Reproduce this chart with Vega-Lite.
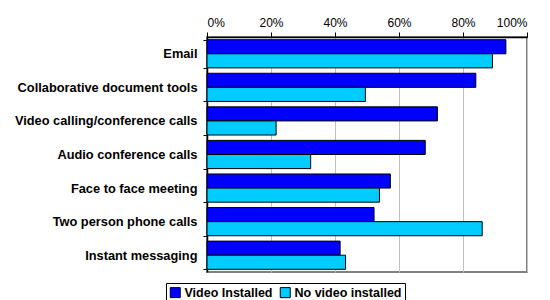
{
  "$schema": "https://vega.github.io/schema/vega-lite/v6.json",
  "autosize": "none",
  "width": 320,
  "height": 235,
  "padding": {"left": 207, "top": 37, "right": 23, "bottom": 28},
  "background": "white",
  "data": {
    "values": [
      {"cat": "Email", "series": "Video Installed", "value": 0.934},
      {"cat": "Email", "series": "No video installed", "value": 0.892},
      {"cat": "Collaborative document tools", "series": "Video Installed", "value": 0.84},
      {"cat": "Collaborative document tools", "series": "No video installed", "value": 0.495},
      {"cat": "Video calling/conference calls", "series": "Video Installed", "value": 0.72},
      {"cat": "Video calling/conference calls", "series": "No video installed", "value": 0.216},
      {"cat": "Audio conference calls", "series": "Video Installed", "value": 0.682},
      {"cat": "Audio conference calls", "series": "No video installed", "value": 0.324},
      {"cat": "Face to face meeting", "series": "Video Installed", "value": 0.573},
      {"cat": "Face to face meeting", "series": "No video installed", "value": 0.539},
      {"cat": "Two person phone calls", "series": "Video Installed", "value": 0.522},
      {"cat": "Two person phone calls", "series": "No video installed", "value": 0.86},
      {"cat": "Instant messaging", "series": "Video Installed", "value": 0.416},
      {"cat": "Instant messaging", "series": "No video installed", "value": 0.433}
    ]
  },
  "config": {
    "font": "Liberation Sans",
    "view": {"stroke": "#808080", "strokeWidth": 2}
  },
  "mark": {"type": "bar", "stroke": "black", "strokeWidth": 1},
  "encoding": {
    "y": {
      "field": "cat",
      "type": "nominal",
      "sort": null,
      "title": null,
      "scale": {"paddingInner": 0.16, "paddingOuter": 0.08},
      "axis": {
        "labelFont": "Liberation Sans",
        "labelFontWeight": "bold",
        "labelFontSize": 12.8,
        "labelLimit": 260,
        "labelColor": "black",
        "labelPadding": 6,
        "domainColor": "black",
        "domainWidth": 1.5,
        "tickColor": "black",
        "tickSize": 4,
        "tickBand": "extent",
        "bandPosition": 0
      }
    },
    "yOffset": {
      "field": "series",
      "type": "nominal",
      "sort": ["Video Installed", "No video installed"],
      "scale": {"paddingInner": 0, "paddingOuter": 0}
    },
    "x": {
      "field": "value",
      "type": "quantitative",
      "title": null,
      "scale": {"domain": [0, 1], "nice": false},
      "axis": {
        "orient": "top",
        "format": "%",
        "values": [0, 0.2, 0.4, 0.6, 0.8, 1],
        "labelFontSize": 12,
        "labelColor": "black",
        "labelPadding": 3,
        "domainColor": "black",
        "domainWidth": 1.5,
        "tickColor": "black",
        "tickSize": 5,
        "gridColor": "#c0c0c0",
        "gridWidth": 1
      }
    },
    "color": {
      "field": "series",
      "type": "nominal",
      "title": null,
      "scale": {"domain": ["Video Installed", "No video installed"], "range": ["#0000FF", "#00CCFF"]},
      "legend": {
        "orient": "none",
        "legendX": -41,
        "legendY": 246,
        "direction": "horizontal",
        "symbolType": "square",
        "symbolSize": 100,
        "symbolStrokeColor": "black",
        "symbolStrokeWidth": 1,
        "symbolOpacity": 1,
        "labelFontWeight": "bold",
        "labelFontSize": 12.5,
        "labelColor": "black",
        "labelOffset": 3,
        "columnPadding": 5,
        "strokeColor": "black",
        "padding": 3,
        "fillColor": "white"
      }
    }
  }
}
